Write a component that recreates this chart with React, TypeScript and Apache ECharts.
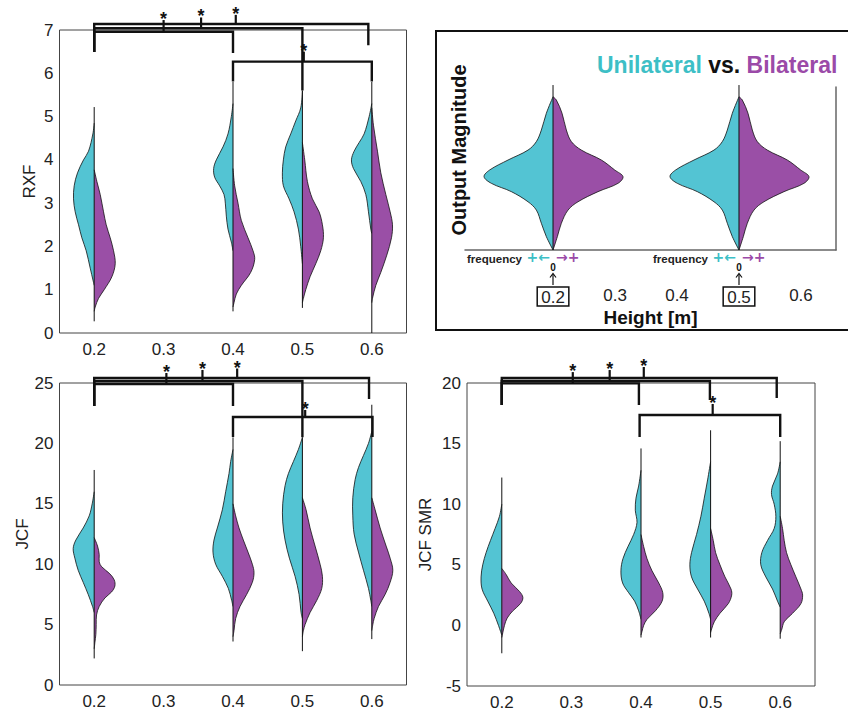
import React, { useEffect, useRef } from "react";
import * as echarts from "echarts";

// ---------- data ----------
const heights = [0.2, 0.4, 0.5, 0.6];
const tickHeights = [0.2, 0.3, 0.4, 0.5, 0.6];

// violin profiles: [value, density]
const rxfUnilateral = [
  [[4.85,0],[4.6,4],[4.2,17],[4.0,32],[3.7,50],[3.4,60],[3.1,62],[2.8,57],[2.5,47],[2.2,37],[1.9,24],[1.5,12],[1.2,3],[1.1,0]],
  [[5.3,0],[5.0,5],[4.6,15],[4.3,30],[4.0,50],[3.8,58],[3.6,55],[3.4,40],[3.2,27],[3.0,23],[2.7,20],[2.4,15],[2.1,5],[1.9,0]],
  [[5.6,0],[5.2,5],[4.9,20],[4.6,35],[4.3,50],[4.0,57],[3.7,60],[3.4,57],[3.1,40],[2.8,25],[2.4,12],[2.0,5],[1.6,0]],
  [[5.3,0],[5.0,8],[4.6,23],[4.4,38],[4.2,53],[4.0,61],[3.8,55],[3.5,33],[3.2,18],[2.8,10],[2.4,3],[2.3,0]],
];
const rxfBilateral = [
  [[3.77,0],[3.5,8],[3.2,18],[2.8,28],[2.5,36],[2.2,48],[1.9,58],[1.6,63],[1.3,53],[1.0,30],[0.8,13],[0.6,3],[0.5,0]],
  [[3.8,0],[3.4,5],[3.0,15],[2.6,25],[2.2,45],[1.9,60],[1.7,65],[1.4,53],[1.1,25],[0.9,10],[0.7,3],[0.6,0]],
  [[4.4,0],[4.0,7],[3.5,15],[3.1,30],[2.8,50],[2.5,60],[2.2,63],[1.9,55],[1.6,40],[1.3,23],[1.0,10],[0.8,3],[0.7,0]],
  [[5.2,0],[4.8,5],[4.2,17],[3.7,27],[3.2,42],[2.8,55],[2.5,62],[2.2,59],[1.8,45],[1.4,27],[1.1,12],[0.8,2],[0.7,0]],
];
const rxfStems = [[0.27, 5.22], [0.5, 5.8], [0.58, 5.6], [0.0, 5.8]];

const jcfUnilateral = [
  [[16,0],[15,6],[14,15],[13,33],[12,55],[11.3,63],[10.5,58],[9.5,48],[8.5,33],[7.5,18],[6.5,5],[6,0]],
  [[19.5,0],[18.5,7],[17.5,12],[16,22],[14.5,32],[13,47],[12,57],[11,60],[10,52],[9,32],[8,14],[7,4],[6.5,0]],
  [[20.5,0],[19.5,12],[18.5,27],[17.5,42],[16.5,52],[15,59],[13.5,59],[12,52],[10.5,39],[9,22],[7.5,10],[6,4],[5.5,0]],
  [[21,0],[20,10],[19,25],[18,40],[17,50],[15.5,57],[14,57],[12.5,53],[11,40],[9.5,25],[8,10],[7,3],[6.5,0]],
];
const jcfBilateral = [
  [[12.2,0],[11.5,10],[10.8,15],[10.2,15],[9.8,22],[9.2,47],[8.7,60],[8.2,62],[7.7,52],[7.2,32],[6.5,15],[5.8,7],[5,6],[4.2,5],[3.5,2],[3.0,0]],
  [[15,0],[14,8],[13,18],[12,31],[11,45],[10,58],[9.3,63],[8.5,58],[7.5,41],[6.5,21],[5.5,8],[4.5,3],[4,0]],
  [[15.5,0],[14.5,11],[13,23],[11.5,38],[10,53],[9,60],[8,58],[7,43],[6,23],[5,8],[4.5,3],[4,0]],
  [[15.5,0],[14.5,10],[13,25],[11.5,43],[10.5,55],[9.5,63],[8.5,55],[7.5,40],[6.5,20],[5.5,7],[5,3],[4.5,0]],
];
const jcfStems = [[2.2, 17.8], [3.6, 20.5], [2.8, 20.5], [3.8, 23.2]];

const smrUnilateral = [
  [[10,0],[9,7],[8,20],[7,34],[6,47],[5,57],[4,62],[3,59],[2,42],[1,24],[0,10],[-0.8,0]],
  [[12.8,0],[11.5,7],[10.5,15],[9.5,17],[8.5,12],[7.5,22],[6.5,39],[5.5,54],[4.5,60],[3.5,55],[2.7,37],[2,19],[1.2,7],[0.5,0]],
  [[13.5,0],[12,9],[10.5,19],[9,29],[7.5,42],[6,57],[5,62],[4,57],[3,39],[2,19],[1,5],[0.5,0]],
  [[13.5,0],[12.5,8],[11.5,23],[10.8,26],[10,18],[9,13],[8,18],[7,38],[6,55],[5,58],[4,43],[3,23],[2,8],[1.5,0]],
];
const smrBilateral = [
  [[4.7,0],[4.2,13],[3.5,28],[2.8,53],[2.3,63],[1.8,56],[1.2,33],[0.6,16],[0,8],[-0.6,3],[-1,0]],
  [[7.5,0],[6.5,8],[5.5,18],[4.5,33],[3.5,53],[2.7,65],[2,63],[1.2,43],[0.5,18],[0,8],[-0.5,3],[-0.8,0]],
  [[8,0],[7,8],[6,15],[5,28],[4,43],[3,61],[2.5,63],[1.8,53],[1,28],[0.3,11],[-0.3,3],[-0.6,0]],
  [[9,0],[8,7],[7,12],[6,19],[5,32],[4,47],[3,62],[2.5,67],[1.8,62],[1,37],[0.3,12],[-0.3,5],[-0.7,0]],
];
const smrStems = [[-2.3, 12.2], [-1.0, 14.6], [-1.0, 16.1], [-1.1, 15.2]];

// schematic (legend) violins
const schematicHeights = [0.2, 0.5];
const schematicUnilateral = [[9.4,0],[8.39,20],[7.36,35],[6.65,50],[6.13,75],[5.52,135],[4.91,190],[4.5,207],[4.09,185],[3.58,125],[2.96,75],[2.45,50],[1.64,35],[0.82,20],[0,0]];
const schematicBilateral = [[9.4,0],[9.2,10],[8.39,27],[7.36,40],[6.65,55],[6.13,85],[5.52,145],[4.91,185],[4.5,210],[4.09,195],[3.58,135],[2.96,75],[2.45,45],[1.64,25],[0.82,13],[0,0]];
const schematicStem = [0, 10.12];

// significance brackets: [x1, x2, yLine, yDrop1, yDrop2, xStar, yTickTop]
const rxfBrackets = [
  [0.2, 0.4, 6.96, 6.49, 6.47, 0.3, 7.23],
  [0.2, 0.5, 7.04, 6.49, 5.6, 0.354, 7.29],
  [0.2, 0.595, 7.14, 6.49, 6.65, 0.404, 7.35],
  [0.4, 0.6, 6.27, 5.81, 5.81, 0.502, 6.5],
];
const jcfBrackets = [
  [0.2, 0.4, 24.92, 23.1, 23.1, 0.304, 25.83],
  [0.2, 0.5, 25.17, 23.1, 20.5, 0.356, 26.08],
  [0.2, 0.596, 25.41, 23.1, 23.68, 0.406, 26.2],
  [0.4, 0.601, 22.19, 20.53, 20.53, 0.504, 22.77],
];
const smrBrackets = [
  [0.2, 0.397, 19.97, 18.18, 18.18, 0.302, 20.9],
  [0.2, 0.499, 20.17, 18.18, 18.6, 0.355, 21.07],
  [0.2, 0.595, 20.41, 18.18, 18.76, 0.404, 21.32],
  [0.398, 0.6, 17.36, 15.54, 15.54, 0.503, 18.27],
];

// ---------- styles ----------
const TEAL = "#53c4d3";
const PURPLE = "#9a4fa6";
const TITLE_TEAL = "#3dbfc6";
const TITLE_PURPLE = "#9b4aa8";
const FONT = "'Liberation Sans', Arial, sans-serif";
const SCALE_MAIN = 0.1 / 208;
const SCALE_SCHEM = 0.1 / 186;

function violinSeries(axis: number, xs: number[], uni: any[], bi: any[], stems: any[], scale: number) {
  return {
    type: "custom",
    xAxisIndex: axis,
    yAxisIndex: axis,
    silent: true,
    clip: false,
    data: xs.map((x, i) => [x, i]),
    renderItem: (params: any, api: any) => {
      const i = params.dataIndex;
      const xc = xs[i];
      const left = uni[i].map(([y, d]: number[]) => api.coord([xc - d * scale, y]));
      const right = bi[i].map(([y, d]: number[]) => api.coord([xc + d * scale, y]));
      const s0 = api.coord([xc, stems[i][0]]);
      const s1 = api.coord([xc, stems[i][1]]);
      return {
        type: "group",
        children: [
          { type: "polyline", shape: { points: left, smooth: 0.35 }, style: { fill: TEAL, stroke: "#111", lineWidth: 0.8 } },
          { type: "polyline", shape: { points: right, smooth: 0.35 }, style: { fill: PURPLE, stroke: "#111", lineWidth: 0.8 } },
          { type: "line", shape: { x1: s0[0], y1: s0[1], x2: s1[0], y2: s1[1] }, style: { stroke: "#111", lineWidth: 1 } },
        ],
      };
    },
  };
}

function bracketSeries(axis: number, brackets: number[][]) {
  return {
    type: "custom",
    xAxisIndex: axis,
    yAxisIndex: axis,
    silent: true,
    clip: false,
    z: 10,
    data: brackets.map((b, i) => [b[0], b[2], i]),
    renderItem: (params: any, api: any) => {
      const [x1, x2, yl, yd1, yd2, xs, yt] = brackets[params.dataIndex];
      const p1 = api.coord([x1, yd1]);
      const p2 = api.coord([x1, yl]);
      const p3 = api.coord([x2, yl]);
      const p4 = api.coord([x2, yd2]);
      const t0 = api.coord([xs, yl]);
      const t1 = api.coord([xs, yt]);
      return {
        type: "group",
        children: [
          { type: "polyline", shape: { points: [p1, p2, p3, p4] }, style: { fill: null, stroke: "#111", lineWidth: 2.4 } },
          { type: "line", shape: { x1: t0[0], y1: t0[1], x2: t1[0], y2: t1[1] }, style: { stroke: "#111", lineWidth: 2.2 } },
          {
            type: "text",
            x: t1[0],
            y: t1[1] - 1,
            style: { text: "*", fill: "#111", font: `bold 18px ${FONT}`, lineHeight: 9, align: "center", verticalAlign: "middle" },
          },
        ],
      };
    },
  };
}

function mainXAxis(grid: number) {
  return {
    type: "value",
    gridIndex: grid,
    min: 0.15,
    max: 0.65,
    axisLine: { show: false },
    axisTick: { show: false },
    splitLine: { show: false },
    axisLabel: {
      customValues: tickHeights,
      formatter: (v: number) => v.toFixed(1),
      fontSize: 17,
      color: "#222",
      margin: 8,
      fontFamily: FONT,
    },
  };
}

function mainYAxis(grid: number, name: string, min: number, max: number, interval: number, gap: number) {
  return {
    type: "value",
    gridIndex: grid,
    min,
    max,
    interval,
    name,
    nameLocation: "middle",
    nameGap: gap,
    nameTextStyle: { fontSize: 17, color: "#222", fontFamily: FONT },
    axisLine: { show: false },
    axisTick: { show: false },
    splitLine: { show: false },
    axisLabel: { fontSize: 17, color: "#222", margin: 6, fontFamily: FONT },
  };
}

function schematicAnnotations(cx: number) {
  return [
    { type: "text", x: cx - 86, y: 259, style: { text: "frequency", font: `bold 11.5px ${FONT}`, fill: "#222", verticalAlign: "middle", align: "left" } },
    { type: "text", x: cx - 3, y: 257, style: { text: "+←", font: `bold 14px 'DejaVu Sans', sans-serif`, fill: TITLE_TEAL, verticalAlign: "middle", align: "right" } },
    { type: "text", x: cx + 3, y: 257, style: { text: "→+", font: `bold 14px 'DejaVu Sans', sans-serif`, fill: TITLE_PURPLE, verticalAlign: "middle", align: "left" } },
    { type: "text", x: cx, y: 267, style: { text: "0", font: `bold 10px ${FONT}`, fill: "#111", verticalAlign: "middle", align: "center" } },
    { type: "line", shape: { x1: cx, y1: 285, x2: cx, y2: 274 }, style: { stroke: "#111", lineWidth: 1.2 } },
    { type: "polyline", shape: { points: [[cx - 3, 277.5], [cx, 273.5], [cx + 3, 277.5]] }, style: { stroke: "#111", lineWidth: 1.2, fill: null } },
  ];
}

export default function App() {
  const ref = useRef<HTMLDivElement>(null);
  useEffect(() => {
    if (!ref.current) return;
    const chart = echarts.init(ref.current, undefined, { renderer: "svg" });
    const gridBox = { show: true, borderColor: "#444", borderWidth: 1, backgroundColor: "transparent" };
    chart.setOption({
      animation: false,
      textStyle: { fontFamily: FONT },
      grid: [
        { ...gridBox, left: 59.5, top: 30, width: 347, height: 303 },
        { show: false, left: 465, top: 87, width: 371, height: 163 },
        { ...gridBox, left: 59.5, top: 383, width: 347, height: 302 },
        { ...gridBox, left: 467, top: 383, width: 348, height: 303 },
      ],
      xAxis: [
        mainXAxis(0),
        {
          type: "value",
          gridIndex: 1,
          min: 0.058,
          max: 0.6565,
          name: "Height [m]",
          nameLocation: "middle",
          nameGap: 54,
          nameTextStyle: { fontSize: 19, fontWeight: "bold", color: "#111", fontFamily: FONT },
          axisLine: { show: true, lineStyle: { color: "#666", width: 1.5 } },
          axisTick: { show: false },
          splitLine: { show: false },
          axisLabel: {
            customValues: tickHeights,
            margin: 37,
            fontSize: 17,
            color: "#222",
            fontFamily: FONT,
            formatter: (v: number) => {
              const s = v.toFixed(1);
              return schematicHeights.some((h) => Math.abs(h - v) < 1e-6) ? `{box|${s}}` : s;
            },
            rich: {
              box: { fontSize: 17, color: "#222", borderColor: "#111", borderWidth: 1.5, padding: [2, 4, 0, 4], fontFamily: FONT },
            },
          },
        },
        mainXAxis(2),
        mainXAxis(3),
      ],
      yAxis: [
        mainYAxis(0, "RXF", 0, 7, 1, 22),
        {
          type: "value",
          gridIndex: 1,
          position: "right",
          min: 0,
          max: 10,
          axisLine: { show: true, lineStyle: { color: "#666", width: 1.5 } },
          axisTick: { show: false },
          axisLabel: { show: false },
          splitLine: { show: false },
        },
        mainYAxis(2, "JCF", 0, 25, 5, 27),
        mainYAxis(3, "JCF SMR", -5, 20, 5, 33),
      ],
      series: [
        violinSeries(0, heights, rxfUnilateral, rxfBilateral, rxfStems, SCALE_MAIN),
        violinSeries(2, heights, jcfUnilateral, jcfBilateral, jcfStems, SCALE_MAIN),
        violinSeries(3, heights, smrUnilateral, smrBilateral, smrStems, SCALE_MAIN),
        violinSeries(
          1,
          schematicHeights,
          schematicHeights.map(() => schematicUnilateral),
          schematicHeights.map(() => schematicBilateral),
          schematicHeights.map(() => schematicStem),
          SCALE_SCHEM
        ),
        bracketSeries(0, rxfBrackets),
        bracketSeries(2, jcfBrackets),
        bracketSeries(3, smrBrackets),
      ],
      graphic: [
        { type: "rect", shape: { x: 436, y: 31, width: 440, height: 299 }, style: { fill: "none", stroke: "#111", lineWidth: 2 } },
        {
          type: "text",
          x: 597,
          y: 65,
          style: {
            text: "{u|Unilateral} {v|vs.} {b|Bilateral}",
            verticalAlign: "middle",
            align: "left",
            rich: {
              u: { fill: TITLE_TEAL, font: `bold 23px ${FONT}` },
              v: { fill: "#111", font: `bold 23px ${FONT}` },
              b: { fill: TITLE_PURPLE, font: `bold 23px ${FONT}` },
            },
            font: `bold 23px ${FONT}`,
          },
        },
        {
          type: "text",
          x: 459,
          y: 150,
          rotation: Math.PI / 2,
          style: { text: "Output Magnitude", font: `bold 20px ${FONT}`, fill: "#111", align: "center", verticalAlign: "middle" },
        },
        ...schematicAnnotations(553),
        ...schematicAnnotations(739),
      ],
    });
    return () => chart.dispose();
  }, []);
  return (
    <div
      ref={ref}
      style={{ position: "fixed", left: 0, top: 0, width: 848, height: 712, background: "#fff" }}
    />
  );
}
